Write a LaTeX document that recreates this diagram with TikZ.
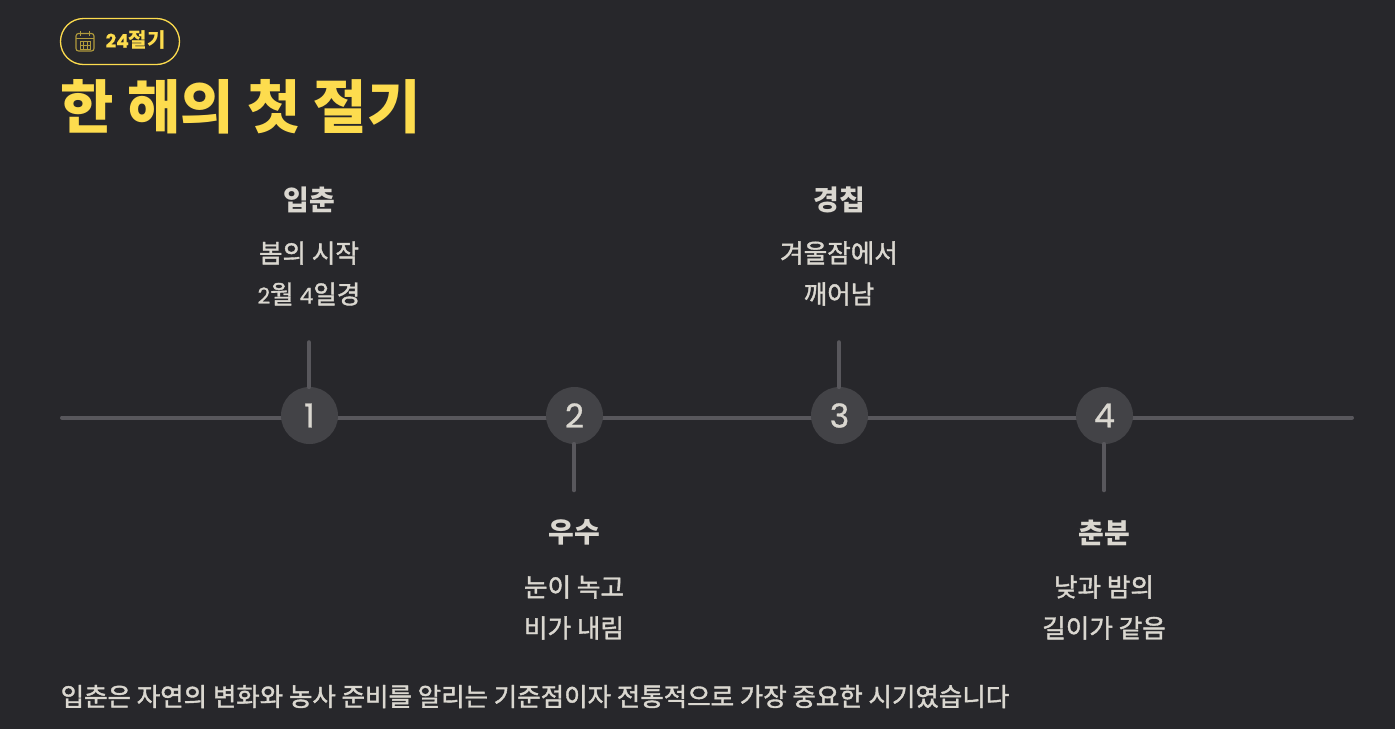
\documentclass[tikz,border=0pt]{standalone}
\usepackage{fontspec}
\setmainfont{Noto Sans CJK KR}
\newfontfamily\kr[FakeBold=1.5]{Noto Sans CJK KR}
\newfontfamily\dg[FakeBold=0.8]{Poppins}
\newfontfamily\dgl[FakeBold=0.3]{Poppins}
\definecolor{bgc}{HTML}{27272B}
\definecolor{yel}{HTML}{FDDC4E}
\definecolor{txt}{HTML}{DAD7D0}
\definecolor{lin}{HTML}{58575C}
\definecolor{circ}{HTML}{434347}
\definecolor{ico}{HTML}{B09A3C}
\tikzset{
  x=1pt,y=-1pt,
  head/.style={font=\fontsize{28}{32}\selectfont\bfseries,text=txt,inner sep=0pt,anchor=center},
  body/.style={font=\kr\fontsize{25.6}{41}\selectfont,text=txt,inner sep=0pt,align=center,anchor=center},
  numc/.style={circle,fill=circ,minimum size=57pt,inner sep=0pt,text=txt,font=\fontsize{33}{36}\selectfont\dg},
  axisline/.style={draw=lin,line width=4pt,line cap=round},
  stem/.style={draw=lin,line width=4.6pt,line cap=round},
}
\begin{document}
\begin{tikzpicture}
\useasboundingbox (0,0) rectangle (1395,729);
\fill[bgc] (0,0) rectangle (1395,729);
% pill
\node[draw=yel,line width=1.3pt,rounded corners=23pt,minimum width=119pt,minimum height=46pt,inner sep=0pt] (pill) at (120,41.5) {};
\node[anchor=west,inner sep=0pt,text=yel,font=\fontsize{20}{22}\selectfont\bfseries] (pilltxt) at (105.5,40) {{\dgl\fontsize{18.5}{20}\selectfont 24}절기};
% calendar icon
\draw[ico,line width=1.1pt,rounded corners=2.5pt] (76,33.5) rectangle (94,51);
\draw[ico,line width=1.1pt] (76,38.5)--(94,38.5) (80.5,31)--(80.5,35.5) (89.5,31)--(89.5,35.5);
\draw[ico,line width=.9pt] (80,41.5) rectangle (90.5,49) (80,45)--(90.5,45) (83.5,41.5)--(83.5,49) (87,41.5)--(87,49);
% title
\node[anchor=west,inner sep=0pt,text=yel,font=\fontsize{58}{64}\selectfont\bfseries] (title) at (60.5,106.5) {한 해의 첫 절기};
% axis
\coordinate (ax1) at (62,417.5);
\coordinate (ax2) at (1352,417.5);
\draw[axisline] (ax1)--(ax2);
% circles
\node[numc] (n1) at (309.5,415.5) {1};
\node[numc] (n2) at (574.5,415.5) {2};
\node[numc] (n3) at (839.5,415.5) {3};
\node[numc] (n4) at (1104.5,415.5) {4};
% stems
\coordinate (s1) at (309,342.5);
\coordinate (s2) at (574,490);
\coordinate (s3) at (839,342.5);
\coordinate (s4) at (1104,490);
\draw[stem] (s1)--(s1|-n1.north);
\draw[stem] (s2)--(s2|-n2.south);
\draw[stem] (s3)--(s3|-n3.north);
\draw[stem] (s4)--(s4|-n4.south);
% labels
\node[head] (h1) at (309,199.5) {입춘};
\node[body] (b1) at (309,273.5) {봄의 시작\\{\dg\fontsize{22}{41}\selectfont 2}월 {\dg\fontsize{22}{41}\selectfont 4}일경};
\node[head] (h2) at (574,532.5) {우수};
\node[body] (b2) at (574,607.5) {눈이 녹고\\비가 내림};
\node[head] (h3) at (839,199.5) {경칩};
\node[body] (b3) at (839,273.5) {겨울잠에서\\깨어남};
\node[head] (h4) at (1104,532.5) {춘분};
\node[body] (b4) at (1104,607.5) {낮과 밤의\\길이가 같음};
\node[anchor=west,inner sep=0pt,text=txt,font=\kr\fontsize{25.5}{28}\selectfont] (foot) at (60.5,696.5) {입춘은 자연의 변화와 농사 준비를 알리는 기준점이자 전통적으로 가장 중요한 시기였습니다};
\end{tikzpicture}
\end{document}
